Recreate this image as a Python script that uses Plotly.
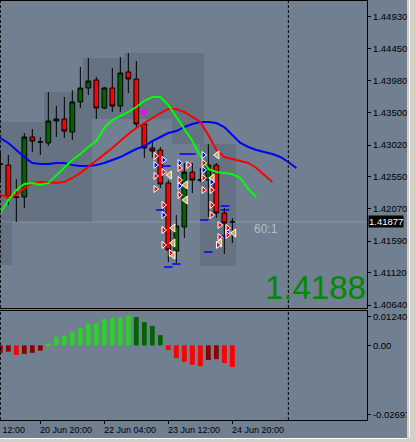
import plotly.graph_objects as go

# ---------------- data (H4 bars) ----------------
bars = list(range(30))
opens = [1.42740, 1.42723, 1.42250, 1.42247, 1.43140, 1.43068, 1.43051, 1.43378, 1.43408, 1.43214,
         1.43661, 1.43869, 1.43988, 1.43571, 1.43869, 1.43601, 1.44107, 1.44003, 1.43333, 1.42976,
         1.42947, 1.42456, 1.41443, 1.41801, 1.42619, 1.42505, 1.42500, 1.42723, 1.42009, 1.41880]
highs = [1.42917, 1.42872, 1.42515, 1.43199, 1.43259, 1.43140, 1.43810, 1.43601, 1.43735, 1.43839,
         1.44182, 1.44315, 1.44033, 1.43884, 1.44167, 1.44330, 1.44390, 1.44271, 1.43348, 1.43096,
         1.42991, 1.42500, 1.41979, 1.42753, 1.42753, 1.42679, 1.43036, 1.42753, 1.42083, 1.41935]
lows = [1.42500, 1.42128, 1.41875, 1.42083, 1.42917, 1.42872, 1.43006, 1.43140, 1.43125, 1.43096,
        1.43571, 1.43765, 1.43408, 1.43556, 1.43512, 1.43512, 1.43795, 1.43274, 1.42828, 1.42828,
        1.42381, 1.41280, 1.41265, 1.41637, 1.42307, 1.42470, 1.41950, 1.41935, 1.41399, 1.41563]
closes = [1.42735, 1.42247, 1.42240, 1.43140, 1.43080, 1.43064, 1.43378, 1.43408, 1.43229, 1.43661,
          1.43869, 1.43973, 1.43571, 1.43869, 1.43601, 1.44092, 1.44003, 1.43333, 1.42976, 1.42932,
          1.42441, 1.41458, 1.41816, 1.42619, 1.42500, 1.42498, 1.42723, 1.42009, 1.41860, 1.41877]

# Alligator lines (shifted forward 8 / 5 / 3 bars)
jaw = [1.43125, 1.43051, 1.42947, 1.42842, 1.42753, 1.42738, 1.42738, 1.42753, 1.42753, 1.42723,
       1.42708, 1.42708, 1.42723, 1.42753, 1.42798, 1.42842, 1.42902, 1.42961, 1.43006, 1.43080,
       1.43140, 1.43199, 1.43229, 1.43289, 1.43333, 1.43363, 1.43363, 1.43348, 1.43289, 1.43170,
       1.43051, 1.42991, 1.42947, 1.42917, 1.42887, 1.42842, 1.42768, 1.42679]
teeth = [1.42277, 1.42247, 1.42277, 1.42381, 1.42456, 1.42470, 1.42470, 1.42456, 1.42470, 1.42530,
         1.42604, 1.42694, 1.42798, 1.42887, 1.42976, 1.43080, 1.43185, 1.43274, 1.43348, 1.43423,
         1.43497, 1.43557, 1.43557, 1.43512, 1.43438, 1.43363, 1.43170, 1.42947, 1.42842, 1.42813,
         1.42783, 1.42753, 1.42679, 1.42575, 1.42470]
lips = [1.42009, 1.42203, 1.42351, 1.42441, 1.42456, 1.42426, 1.42456, 1.42575, 1.42694, 1.42798,
        1.42887, 1.42991, 1.43080, 1.43274, 1.43393, 1.43452, 1.43512, 1.43586, 1.43676, 1.43735,
        1.43735, 1.43616, 1.43438, 1.43274, 1.43080, 1.42857, 1.42664, 1.42619, 1.42604, 1.42589,
        1.42530, 1.42366, 1.42247]

# oscillator histogram
osc = [-0.0027, -0.0023, -0.0035, -0.0031, -0.0027, -0.0019, 0.0006, 0.0030, 0.0035, 0.0048,
       0.0062, 0.0077, 0.0081, 0.0095, 0.0099, 0.0102, 0.0106, 0.0102, 0.0084, 0.0070,
       0.0037, -0.0017, -0.0046, -0.0060, -0.0070, -0.0075, -0.0053, -0.0050, -0.0064, -0.0078]

# signal glyphs
sig_red_x = [19.4, 19.4, 19.4, 20.4, 20.4, 20.4, 20.4, 21.3, 22.4, 22.4, 22.4, 23.5,
             25.4, 25.4, 25.4, 26.4, 26.4, 26.4, 27.4, 27.4, 27.2, 28.4, 28.4]
sig_red_y = [1.42857, 1.42560, 1.42366, 1.42619, 1.42128, 1.41756, 1.41533, 1.41414, 1.42679,
             1.42500, 1.42277, 1.42723, 1.42753, 1.42530, 1.42351, 1.42351, 1.42128, 1.41979,
             1.41830, 1.41652, 1.41533, 1.41786, 1.41682]
sig_blue_x = [19.4, 20.4, 20.4, 22.4, 22.4, 25.4, 25.4, 26.4, 28.4]
sig_blue_y = [1.42723, 1.42798, 1.41979, 1.42753, 1.42411, 1.42872, 1.42649, 1.42470, 1.41726]
sig_orange_x = [21.15, 21.6, 21.6, 21.6, 23.15, 23.15, 27.1, 26.5, 27.4, 29.2]
sig_orange_y = [1.42575, 1.41786, 1.41563, 1.41384, 1.42426, 1.42203, 1.42872, 1.42530, 1.41563, 1.41711]
dash_x = [19.96, 20.77, 22.9, 23.9, 21.0, 22.0, 26.0, 28.08, 28.08, 27.9, 25.5]
dash_y = [1.42054, 1.42708, 1.42887, 1.42887, 1.41206, 1.41250, 1.41429, 1.42113, 1.42054, 1.41667, 1.41905]
dot_x = [17.9]
dot_y = [1.43512]

price_ticks = [1.44930, 1.44450, 1.43980, 1.43500, 1.43020, 1.42550, 1.42070, 1.41590, 1.41120, 1.40640]
time_tick_bars = [-3, 5, 13, 21, 29]
time_tick_labels = ["19 Jun 12:00", "20 Jun 20:00", "22 Jun 04:00", "23 Jun 12:00", "24 Jun 20:00"]
osc_tick_vals = [0.01024, 0.0, -0.02516]
osc_tick_text = ["0.012402", "0.00", "-0.02697"]
last_price = 1.41877
big_label = "1.4188"
ratio_label = "60:1"
separator_bars = [0, 36]

# shaded zones (bar index from/to, price low/high)
zones = [
    (-0.04, 8.46, 1.41875, 1.43363),
    (-0.04, 1.46, 1.41235, 1.41875),
    (5.46, 8.46, 1.43363, 1.43810),
    (8.46, 11.46, 1.41875, 1.43408),
    (8.46, 10.33, 1.43408, 1.43810),
    (10.33, 15.46, 1.43408, 1.44315),
    (15.46, 25.46, 1.43408, 1.44390),
    (21.46, 25.46, 1.43036, 1.43408),
    (24.96, 29.46, 1.41220, 1.43036),
]

# ---------------- figure ----------------
BG = "#708090"
FONT = "Liberation Sans"
x_range = [-0.041, 45.83]
price_range = [1.405955, 1.451636]
osc_range = [-0.02697, 0.012402]
PLOT_W = 367.0
LABEL_W = 52.0

fig = go.Figure()

for name, vals, col in [("jaw", jaw, "#0000ff"), ("teeth", teeth, "#ff0000"), ("lips", lips, "#00ff00")]:
    fig.add_trace(go.Scatter(x=list(range(len(vals))), y=vals, mode="lines",
                             line=dict(color=col, width=2), xaxis="x", yaxis="y",
                             hoverinfo="skip"))

fig.add_trace(go.Candlestick(
    x=bars, open=opens, high=highs, low=lows, close=closes,
    increasing=dict(line=dict(color="black", width=1), fillcolor="#006400"),
    decreasing=dict(line=dict(color="black", width=1), fillcolor="#ff0000"),
    whiskerwidth=0, xaxis="x", yaxis="y", hoverinfo="skip"))

fig.add_trace(go.Scatter(x=dash_x, y=dash_y, mode="markers", xaxis="x", yaxis="y",
                         marker=dict(symbol="line-ew", size=6, line=dict(color="#0000ff", width=1.5)),
                         hoverinfo="skip"))
fig.add_trace(go.Scatter(x=sig_orange_x, y=sig_orange_y, mode="markers", xaxis="x", yaxis="y",
                         marker=dict(symbol="triangle-left", size=7, color="#d8a050",
                                     line=dict(color="white", width=1)), hoverinfo="skip"))
fig.add_trace(go.Scatter(x=sig_blue_x, y=sig_blue_y, mode="markers", xaxis="x", yaxis="y",
                         marker=dict(symbol="triangle-right", size=6, color="#0000ff",
                                     line=dict(color="white", width=1)), hoverinfo="skip"))
fig.add_trace(go.Scatter(x=sig_red_x, y=sig_red_y, mode="markers", xaxis="x", yaxis="y",
                         marker=dict(symbol="triangle-right", size=6, color="#ff0000",
                                     line=dict(color="white", width=1)), hoverinfo="skip"))
fig.add_trace(go.Scatter(x=dot_x, y=dot_y, mode="markers", xaxis="x", yaxis="y",
                         marker=dict(symbol="circle", size=6, color="#ff00ff"), hoverinfo="skip"))

# histogram colours follow rising / falling rule
osc_colors = []
for i, v in enumerate(osc):
    prev = osc[i - 1] if i > 0 else v
    rising = v >= prev
    if v >= 0:
        osc_colors.append("#32cd32" if rising else "#006400")
    else:
        osc_colors.append("#8b0000" if rising else "#ff0000")

fig.add_trace(go.Bar(x=bars, y=osc, width=0.6, marker=dict(color=osc_colors, line=dict(width=0)),
                     xaxis="x2", yaxis="y2", hoverinfo="skip"))

shapes = []
for x0, x1, y0, y1 in zones:
    shapes.append(dict(type="rect", xref="x", yref="y", x0=x0, x1=x1, y0=y0, y1=y1,
                       fillcolor="rgba(40,50,62,0.17)", line=dict(width=0), layer="below"))
shapes.append(dict(type="line", xref="x domain", yref="y", x0=0, x1=1, y0=last_price, y1=last_price,
                   line=dict(color="#8e99a6", width=1), layer="below"))
for b in separator_bars:
    for yr in ["y domain", "y2 domain"]:
        shapes.append(dict(type="line", xref="x", yref=yr, x0=b, x1=b, y0=0, y1=1,
                           line=dict(color="black", width=1, dash="3px,2px")))
# window frame
shapes.append(dict(type="rect", xref="paper", yref="paper", x0=407 / PLOT_W, x1=1.14, y0=-0.06, y1=1.01,
                   fillcolor="#d4d0c8", line=dict(width=0)))
shapes.append(dict(type="line", xref="paper", yref="paper", x0=409.5 / PLOT_W, x1=409.5 / PLOT_W, y0=-0.06, y1=1.01,
                   line=dict(color="white", width=1)))
shapes.append(dict(type="rect", xref="paper", yref="paper", x0=-0.01, x1=1.14, y0=-0.06, y1=(420 - 438) / 419,
                   fillcolor="#d4d0c8", line=dict(width=0)))
shapes.append(dict(type="line", xref="paper", yref="paper", x0=-0.01, x1=407 / PLOT_W,
                   y0=(420 - 438.5) / 419, y1=(420 - 438.5) / 419, line=dict(color="white", width=1)))

annotations = []
span = x_range[1] - x_range[0]
for b, lab in zip(time_tick_bars, time_tick_labels):
    frac = (b - x_range[0]) / span
    if frac < 0:
        # label starting left of the chart: anchor its right end instead
        annotations.append(dict(xref="paper", yref="paper", x=frac + LABEL_W / PLOT_W, y=(420 - 430) / 419,
                                text=lab, showarrow=False, xanchor="right", yanchor="middle", xshift=-1,
                                font=dict(family=FONT, size=9, color="black")))
    else:
        annotations.append(dict(xref="paper", yref="paper", x=frac, y=(420 - 430) / 419,
                                text=lab, showarrow=False, xanchor="left", yanchor="middle", xshift=-2,
                                font=dict(family=FONT, size=9, color="black")))
annotations.append(dict(xref="paper", yref="y", x=1, y=last_price, text=f"{last_price:.5f}",
                        showarrow=False, xanchor="left", yanchor="middle", xshift=1, bgcolor="black",
                        borderpad=0, font=dict(family=FONT, size=9.5, color="white")))
annotations.append(dict(xref="paper", yref="y", x=365 / PLOT_W, y=1.40900, text=big_label, showarrow=False,
                        xanchor="right", yanchor="middle", xshift=3,
                        font=dict(family=FONT, size=33, color="#008a00")))
annotations.append(dict(xref="x", yref="y", x=33.2, y=1.41770, text=ratio_label, showarrow=False,
                        xanchor="center", yanchor="middle", font=dict(family=FONT, size=12, color="#b4bcc6")))

axis_common = dict(showgrid=False, zeroline=False, showline=True, linecolor="black", linewidth=1)

fig.update_layout(
    width=416, height=442,
    margin=dict(l=0, r=49, t=1, b=22),
    paper_bgcolor=BG, plot_bgcolor=BG,
    showlegend=False, hovermode=False,
    boxgap=0.41, boxgroupgap=0,
    xaxis=dict(domain=[0, 1], range=x_range, anchor="y", mirror=True, showticklabels=False,
               ticks="", rangeslider=dict(visible=False), **axis_common),
    yaxis=dict(domain=[(420 - 308) / 419, 1], range=price_range, side="right", anchor="x",
               tickvals=price_ticks, ticktext=[f"{v:.5f}" for v in price_ticks],
               ticks="outside", ticklen=3, tickcolor="black",
               tickfont=dict(family=FONT, size=9.5, color="black"), **axis_common),
    xaxis2=dict(domain=[0, 1], range=x_range, anchor="y2", mirror=True, showticklabels=False,
                tickvals=time_tick_bars, ticks="outside", ticklen=3, tickcolor="black", **axis_common),
    yaxis2=dict(domain=[0, (420 - 311) / 419], range=osc_range, side="right", anchor="x2",
                tickvals=osc_tick_vals, ticktext=osc_tick_text, ticks="outside", ticklen=3,
                tickcolor="black", tickfont=dict(family=FONT, size=9.5, color="black"), **axis_common),
    shapes=shapes, annotations=annotations,
)

fig.write_html("out.html", config={"displayModeBar": False},
               post_script="document.body.style.margin='0';document.body.style.overflow='hidden';")
